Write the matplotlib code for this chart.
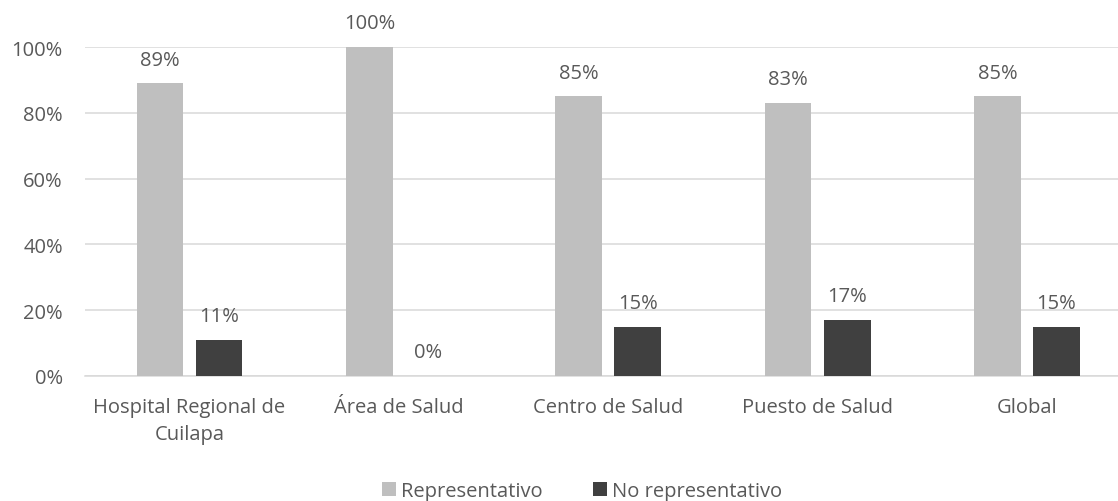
import matplotlib
matplotlib.use("Agg")
import matplotlib.pyplot as plt
import numpy as np

categories = ["Hospital Regional de\nCuilapa", "Área de Salud", "Centro de Salud",
              "Puesto de Salud", "Global"]
representativo = [89, 100, 85, 83, 85]
no_representativo = [11, 0, 15, 17, 15]
yticks = [0, 20, 40, 60, 80, 100]

plt.rcParams["font.family"] = ["Open Sans", "DejaVu Sans"]
TXT = "#595959"
FS = 14.5

fig = plt.figure(figsize=(11.18, 5.02), dpi=100)
# plot area: x 85..1118 px, y 48..377 px
ax = fig.add_axes([85 / 1118, 1 - 377 / 502, 1 - 85 / 1118, 329 / 502])

x = np.arange(len(categories))
w = 0.224
off = 0.141
b1 = ax.bar(x - off, representativo, width=w, color="#bfbfbf", zorder=3,
            label="Representativo")
b2 = ax.bar(x + off, no_representativo, width=w, color="#404040", zorder=3,
            label="No representativo")

for bars, vals in ((b1, representativo), (b2, no_representativo)):
    for r, v in zip(bars, vals):
        ax.annotate(f"{v}%", (r.get_x() + r.get_width() / 2, v),
                    xytext=(0, 17), textcoords="offset points",
                    ha="center", va="center", fontsize=FS, color=TXT)

ax.set_xlim(-0.499, 4.435)
ax.set_ylim(0, 100)
ax.set_yticks(yticks)
ax.set_yticklabels([f"{t}%" for t in yticks], fontsize=FS, color=TXT)
ax.set_xticks(x)
ax.set_xticklabels(categories, fontsize=FS, color=TXT, linespacing=1.45)
ax.tick_params(axis="y", length=0, pad=16)
ax.tick_params(axis="x", length=0, pad=15)
ax.grid(axis="y", color="#d9d9d9", linewidth=1.1, zorder=0)
for s in ("top", "right", "left"):
    ax.spines[s].set_visible(False)
ax.spines["bottom"].set_color("#d9d9d9")
ax.spines["bottom"].set_linewidth(1.1)

fig.legend(handles=[b1, b2], loc="center", bbox_to_anchor=(582 / 1118, 1 - 492 / 502),
           ncol=2, frameon=False, fontsize=FS, handlelength=0.7, handleheight=0.7,
           handletextpad=0.25, columnspacing=2.5, labelcolor=TXT, borderpad=0)

fig.savefig("out.png", dpi=100, facecolor="white")
